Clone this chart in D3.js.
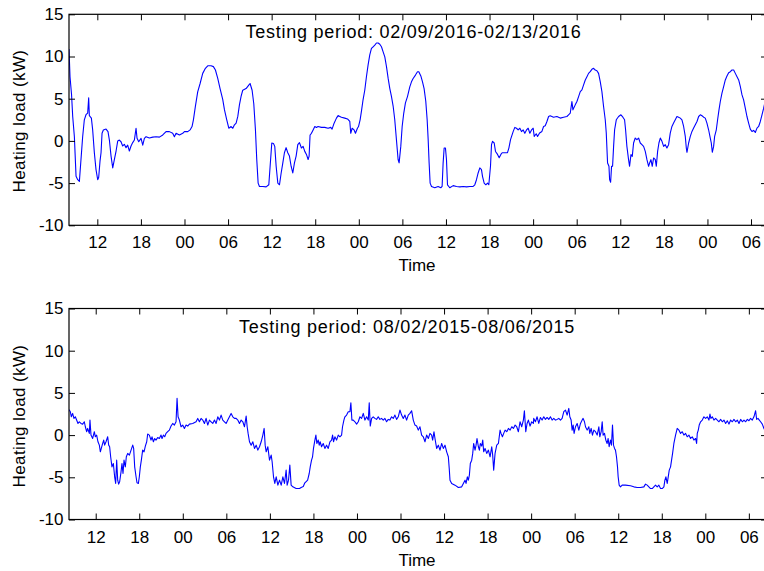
<!DOCTYPE html>
<html>
<head>
<meta charset="utf-8">
<script src="https://cdn.jsdelivr.net/npm/d3@7"></script>
<style>
  body { margin: 0; background: #fff; }
  text { font-family: "Liberation Sans", Arial, Helvetica, sans-serif; fill: #000; }
</style>
</head>
<body>
<svg id="fig" width="764" height="571"></svg>
<script>
// Heating load, kW, sampled as [hour since midnight of first day, kW]
const feb2016Load = [
  [8.10,10.9],[8.24,7.6],[8.45,5.5],[8.61,2.9],[8.84,0.5],[9.07,-4.2],[9.30,-4.6],[9.53,-4.8],[9.75,-2.2],[9.98,0.5],
  [10.21,2.5],[10.44,3.1],[10.67,3.3],[10.81,5.1],[10.90,3.0],[10.99,2.9],[11.18,2.7],[11.36,1.3],[11.59,-1.4],[11.82,-3.4],
  [12.05,-4.6],[12.19,-4.3],[12.37,-2.4],[12.51,-1.4],[12.65,0.9],[12.83,1.3],[13.20,1.4],[13.47,1.1],[13.66,0.1],[13.89,-1.8],
  [14.12,-3.2],[14.35,-2.2],[14.58,-1.2],[14.81,0.0],[15.03,0.1],[15.26,-0.1],[15.49,-0.6],[15.72,-0.4],[15.95,-0.8],[16.18,-0.5],
  [16.41,-1.2],[16.64,-0.6],[16.87,-0.2],[17.10,0.1],[17.33,1.5],[17.47,0.3],[17.70,-0.1],[18.02,0.3],[18.25,-0.5],[18.48,0.3],
  [18.71,0.5],[19.17,0.35],[19.63,0.45],[20.09,0.5],[20.55,0.45],[21.01,0.7],[21.46,1.1],[21.92,1.1],[22.38,0.9],[22.61,0.5],
  [22.84,0.9],[23.30,0.7],[23.76,0.9],[23.99,1.1],[24.45,1.1],[24.77,1.3],[25.04,1.7],[25.23,2.5],[25.50,4.1],[25.82,5.8],
  [26.15,6.8],[26.51,8.0],[26.88,8.6],[27.20,8.9],[27.66,8.9],[27.98,8.8],[28.26,8.4],[28.58,7.4],[28.90,6.2],[29.27,4.9],
  [29.50,3.7],[29.82,2.5],[30.10,1.5],[30.42,1.7],[30.65,1.5],[30.88,1.9],[31.11,2.1],[31.34,2.9],[31.57,4.3],[31.80,5.3],
  [32.02,6.0],[32.48,6.2],[32.85,6.6],[33.03,6.8],[33.31,6.0],[33.54,4.4],[33.77,1.3],[33.95,-2.2],[34.14,-5.0],[34.32,-5.4],
  [34.78,-5.4],[35.24,-5.45],[35.61,-5.2],[35.79,-3.0],[36.02,-0.25],[36.25,-0.3],[36.43,-0.65],[36.62,-3.0],[36.85,-5.0],[37.08,-5.2],
  [37.31,-3.8],[37.54,-2.6],[37.76,-1.4],[37.99,-0.8],[38.22,-1.4],[38.45,-1.8],[38.68,-3.0],[38.91,-3.8],[39.14,-2.6],[39.37,-1.8],
  [39.60,-0.45],[39.83,-0.2],[40.10,-0.84],[40.33,-0.65],[40.56,-1.24],[40.79,-1.6],[41.02,-2.2],[41.16,-1.8],[41.29,0.7],[41.48,0.9],
  [41.71,1.3],[41.94,1.7],[42.17,1.6],[42.39,1.7],[42.85,1.6],[43.31,1.6],[43.77,1.5],[44.14,1.6],[44.32,1.4],[44.60,2.1],
  [44.92,2.7],[45.15,3.0],[45.38,2.9],[45.61,2.8],[46.07,2.7],[46.44,2.6],[46.76,2.3],[46.89,0.9],[47.08,1.5],[47.35,1.3],
  [47.54,0.9],[47.81,1.5],[47.96,1.7],[48.18,2.5],[48.36,3.5],[48.59,4.9],[48.82,6.0],[49.05,7.6],[49.28,9.0],[49.51,10.2],
  [49.74,10.95],[49.97,11.15],[50.20,11.35],[50.43,11.6],[50.66,11.6],[50.89,11.45],[51.12,11.15],[51.35,10.55],[51.58,9.95],[51.81,8.8],
  [52.04,7.4],[52.27,6.2],[52.50,5.25],[52.73,4.1],[52.95,2.5],[53.18,0.15],[53.41,-2.2],[53.55,-2.6],[53.78,-0.65],[53.97,1.7],
  [54.19,3.3],[54.42,4.5],[54.70,5.25],[55.02,6.4],[55.25,7.0],[55.48,7.4],[55.80,7.8],[56.08,8.2],[56.26,8.2],[56.54,7.7],
  [56.77,7.0],[56.99,6.2],[57.22,4.7],[57.41,2.5],[57.55,0.15],[57.68,-2.6],[57.82,-5.0],[58.01,-5.4],[58.46,-5.55],[58.92,-5.4],
  [59.29,-5.55],[59.47,-5.4],[59.61,-2.6],[59.75,-0.85],[59.93,-0.85],[60.07,-2.2],[60.21,-5.2],[60.53,-5.55],[60.99,-5.3],[61.45,-5.4],
  [61.91,-5.45],[62.37,-5.4],[62.83,-5.45],[63.29,-5.4],[63.74,-5.4],[63.97,-5.2],[64.20,-4.6],[64.43,-3.8],[64.66,-3.2],[64.89,-3.4],
  [65.03,-4.2],[65.26,-5.0],[65.49,-5.2],[65.72,-5.0],[65.90,-5.2],[66.13,-3.0],[66.27,-0.45],[66.41,-0.05],[66.64,-0.25],[66.82,-1.25],
  [67.10,-1.6],[67.33,-2.0],[67.56,-1.6],[67.74,-1.4],[68.11,-1.4],[68.47,-1.4],[68.66,-0.85],[68.89,0.15],[69.25,1.1],[69.48,1.6],
  [69.71,1.5],[69.94,1.3],[70.17,1.5],[70.40,1.1],[70.63,1.3],[70.86,0.9],[71.09,1.3],[71.32,1.5],[71.55,0.9],[71.78,1.3],
  [72.01,1.5],[72.15,0.53],[72.43,0.85],[72.61,0.53],[72.89,0.93],[73.21,1.12],[73.44,1.71],[73.67,1.79],[73.90,2.3],[74.13,2.89],
  [74.35,2.98],[74.81,2.81],[75.27,2.89],[75.73,2.7],[76.19,2.81],[76.65,2.89],[76.88,3.09],[77.11,3.28],[77.34,4.67],[77.48,3.68],
  [77.80,4.27],[78.03,4.67],[78.26,5.25],[78.49,5.84],[78.72,6.04],[78.95,6.63],[79.18,7.22],[79.41,7.61],[79.63,8.0],[79.86,8.2],
  [80.09,8.48],[80.32,8.6],[80.55,8.4],[80.78,8.32],[81.01,8.0],[81.24,7.02],[81.47,5.84],[81.70,4.07],[81.93,2.5],[82.07,0.93],
  [82.25,-2.61],[82.44,-3.01],[82.53,-4.58],[82.67,-4.9],[82.80,-3.01],[82.94,-3.01],[83.08,-0.65],[83.22,1.32],[83.45,2.5],[83.77,2.89],
  [84.09,3.09],[84.36,2.81],[84.59,2.5],[84.73,1.32],[84.91,-0.65],[85.14,-2.22],[85.28,-3.01],[85.47,-1.63],[85.65,-1.83],[85.83,-0.25],
  [86.06,0.34],[86.29,0.14],[86.52,0.34],[86.75,-0.25],[86.98,-0.45],[87.21,-0.65],[87.44,-1.24],[87.67,-2.22],[87.90,-3.01],[88.04,-2.61],
  [88.22,-2.22],[88.40,-3.01],[88.59,-2.02],[88.82,-2.22],[88.96,-3.01],[89.14,-1.24],[89.32,-0.25],[89.51,0.34],[89.74,-0.05],[89.97,-0.65],
  [90.19,-0.45],[90.42,-0.84],[90.65,-0.45],[90.88,0.93],[91.11,1.71],[91.34,2.11],[91.57,2.5],[91.80,2.89],[92.03,2.81],[92.26,2.7],
  [92.49,2.5],[92.72,1.71],[92.95,0.53],[93.09,-0.84],[93.18,-1.35],[93.41,-0.25],[93.64,0.53],[93.87,1.12],[94.10,1.52],[94.33,1.91],
  [94.56,2.3],[94.79,2.89],[95.02,3.09],[95.25,2.98],[95.48,2.81],[95.70,2.7],[95.93,2.11],[96.16,1.32],[96.39,0.34],[96.53,-0.25],
  [96.67,-1.35],[96.85,-0.65],[96.99,0.53],[97.22,1.32],[97.40,2.5],[97.59,3.68],[97.77,4.67],[98.00,5.65],[98.23,6.43],[98.46,7.22],
  [98.69,7.68],[98.92,8.08],[99.15,8.2],[99.38,8.4],[99.61,8.4],[99.84,8.0],[100.07,7.61],[100.30,7.22],[100.53,6.43],[100.76,5.45],
  [100.98,4.86],[101.21,3.88],[101.44,2.89],[101.67,2.11],[101.90,1.4],[102.13,1.12],[102.36,1.24],[102.59,1.0],[102.82,1.52],[103.05,1.71],
  [103.28,2.3],[103.51,3.09],[103.74,3.88],[103.95,4.7],[104.20,5.0]
];

const aug2015Load = [
  [8.32,2.9],[8.36,2.97],[8.50,2.77],[8.64,2.17],[8.82,2.57],[9.00,1.98],[9.19,2.17],[9.37,1.78],[9.56,1.38],[9.74,1.58],
  [9.97,1.38],[10.20,1.30],[10.43,1.58],[10.57,0.99],[10.75,0.40],[10.89,0.79],[11.12,0.20],[11.21,1.78],[11.35,0.0],[11.58,-0.40],
  [11.81,0.40],[11.95,-0.20],[12.13,0.0],[12.31,-0.79],[12.50,-1.19],[12.64,-1.98],[12.77,-1.58],[12.96,-0.99],[13.10,-0.59],[13.23,-1.19],
  [13.42,-0.79],[13.65,-0.20],[13.79,-1.19],[13.92,-1.38],[14.06,-2.57],[14.24,-3.76],[14.43,-3.36],[14.61,-4.94],[14.75,-5.73],[14.89,-2.97],
  [15.03,-5.34],[15.16,-5.81],[15.30,-5.53],[15.49,-4.35],[15.62,-3.36],[15.76,-4.55],[15.90,-2.97],[16.08,-3.76],[16.22,-2.57],[16.41,-2.17],
  [16.64,-2.37],[16.87,-1.78],[17.10,-1.19],[17.23,-1.58],[17.37,-3.76],[17.56,-4.94],[17.69,-5.65],[17.88,-5.73],[18.01,-4.94],[18.15,-3.76],
  [18.29,-2.97],[18.47,-1.78],[18.66,-1.98],[18.84,-1.30],[19.03,-0.79],[19.16,0.12],[19.39,0.0],[19.62,-0.59],[19.76,-0.20],[19.95,-0.79],
  [20.13,-0.40],[20.31,-0.59],[20.54,-0.28],[20.77,-0.40],[21.00,0.0],[21.14,-0.40],[21.33,0.0],[21.51,-0.20],[21.69,0.20],[21.92,0.40],
  [22.15,0.59],[22.38,1.07],[22.61,1.38],[22.84,1.19],[23.07,1.58],[23.21,4.35],[23.35,2.17],[23.53,1.78],[23.76,0.99],[23.99,1.19],
  [24.22,0.79],[24.45,1.19],[24.68,1.07],[24.91,1.30],[25.37,1.38],[25.83,1.58],[26.06,1.98],[26.29,1.58],[26.52,1.98],[26.75,1.78],
  [26.98,1.38],[27.21,1.98],[27.44,1.19],[27.67,1.78],[27.90,1.58],[28.13,1.38],[28.36,1.78],[28.59,1.38],[28.82,2.17],[29.05,1.78],
  [29.28,2.37],[29.51,1.78],[29.74,1.58],[29.97,1.38],[30.20,1.78],[30.43,2.17],[30.66,2.57],[30.89,2.17],[31.12,1.98],[31.35,1.98],
  [31.58,1.78],[31.81,1.38],[32.04,1.78],[32.27,1.58],[32.50,0.99],[32.73,2.25],[32.87,0.99],[33.00,0.20],[33.19,-0.79],[33.42,-1.19],
  [33.65,-0.79],[33.88,-1.58],[34.11,-1.19],[34.34,-1.78],[34.57,-1.38],[34.80,-0.79],[35.03,0.0],[35.21,0.79],[35.35,-1.19],[35.49,-1.98],
  [35.72,-1.38],[35.95,-2.97],[36.18,-2.37],[36.31,-3.16],[36.50,-4.94],[36.68,-5.73],[36.87,-4.94],[37.10,-5.93],[37.33,-5.34],[37.56,-5.93],
  [37.79,-4.94],[38.01,-5.73],[38.24,-4.15],[38.38,-5.93],[38.57,-5.34],[38.75,-3.56],[38.93,-5.93],[39.16,-6.13],[39.62,-6.33],[40.08,-6.33],
  [40.31,-6.2],[40.60,-6.1],[40.82,-5.65],[41.00,-5.5],[41.20,-5.34],[41.42,-4.55],[41.56,-3.76],[41.74,-2.97],[41.88,-2.57],[42.01,-1.58],
  [42.20,-0.59],[42.34,0.0],[42.47,-0.99],[42.66,-0.59],[42.80,-1.19],[42.93,-0.79],[43.12,-1.38],[43.35,-0.99],[43.58,-1.58],[43.81,-1.19],
  [44.04,-1.58],[44.27,-0.79],[44.50,-0.59],[44.64,0.0],[44.77,-0.79],[44.96,-0.20],[45.19,-0.59],[45.42,0.0],[45.65,-0.20],[45.88,0.0],
  [46.01,0.99],[46.20,1.78],[46.34,2.17],[46.57,2.37],[46.80,2.77],[47.03,2.77],[47.16,3.83],[47.30,1.78],[47.49,1.78],[47.72,1.58],
  [47.95,1.30],[48.18,1.58],[48.41,2.17],[48.64,1.98],[48.87,2.57],[49.10,1.78],[49.33,2.17],[49.56,1.78],[49.69,3.83],[49.83,1.07],
  [50.02,1.98],[50.24,2.17],[50.47,1.98],[50.70,1.86],[50.93,2.17],[51.16,1.86],[51.39,1.98],[51.62,1.78],[51.85,1.98],[52.08,1.58],
  [52.31,1.86],[52.54,1.78],[52.77,2.17],[53.00,1.98],[53.23,2.37],[53.46,1.86],[53.69,2.17],[53.92,2.97],[54.15,2.37],[54.38,1.98],
  [54.61,2.37],[54.84,1.78],[55.07,2.37],[55.30,2.57],[55.53,2.89],[55.76,1.78],[55.99,1.19],[56.22,1.07],[56.45,0.59],[56.68,0.99],
  [56.91,0.0],[57.14,-0.20],[57.37,-0.79],[57.60,0.0],[57.83,-0.40],[58.06,0.20],[58.29,0.0],[58.43,-0.59],[58.61,0.40],[58.75,-0.40],
  [58.98,-1.58],[59.21,-1.19],[59.44,-1.78],[59.67,-0.99],[59.90,-1.58],[60.13,-1.19],[60.36,-1.98],[60.59,-2.57],[60.73,-4.15],[60.82,-5.34],
  [61.05,-5.73],[61.51,-5.93],[61.97,-6.21],[62.43,-6.13],[62.66,-5.73],[62.89,-5.34],[63.03,-5.73],[63.21,-4.94],[63.35,-5.34],[63.49,-4.74],
  [63.62,-3.36],[63.81,-2.97],[63.95,-2.17],[64.08,-0.99],[64.27,-1.78],[64.41,-1.19],[64.54,-0.40],[64.73,-1.38],[64.87,-1.78],[65.00,-0.99],
  [65.19,-1.30],[65.33,-0.59],[65.46,-1.98],[65.65,-1.58],[65.88,-2.17],[66.11,-1.78],[66.34,-2.57],[66.57,-1.38],[66.70,-2.37],[66.84,-4.15],
  [67.03,-2.17],[67.26,-1.19],[67.49,-0.99],[67.72,0.59],[67.85,0.20],[68.04,-0.20],[68.22,0.20],[68.41,0.59],[68.64,0.40],[68.87,0.79],
  [69.10,0.59],[69.33,0.99],[69.56,0.79],[69.79,1.19],[70.01,0.99],[70.24,0.40],[70.47,1.58],[70.70,0.99],[70.93,1.78],[71.07,2.89],
  [71.26,0.40],[71.44,1.38],[71.62,1.78],[71.85,1.07],[72.08,1.58],[72.31,1.38],[72.36,1.98],[72.59,1.58],[72.82,2.17],[73.05,1.38],
  [73.28,2.09],[73.51,1.78],[73.74,2.17],[73.97,1.86],[74.20,2.09],[74.43,1.86],[74.66,2.17],[74.89,1.78],[75.12,1.98],[75.35,1.78],
  [75.58,1.86],[75.81,1.98],[76.04,1.78],[76.27,1.98],[76.50,2.77],[76.73,2.97],[76.96,2.37],[77.19,3.16],[77.33,2.17],[77.51,1.78],
  [77.65,0.59],[77.79,1.19],[77.92,0.20],[78.11,0.99],[78.34,1.38],[78.57,0.59],[78.80,1.38],[79.03,1.78],[79.16,1.98],[79.35,1.58],
  [79.49,0.99],[79.72,0.59],[79.95,0.99],[80.08,0.20],[80.27,0.79],[80.45,0.0],[80.64,0.59],[80.87,0.40],[81.10,0.0],[81.33,0.99],
  [81.46,-0.20],[81.65,0.40],[81.79,1.58],[81.92,0.0],[82.11,0.20],[82.29,-0.59],[82.47,-0.99],[82.61,-0.40],[82.75,-1.38],[82.93,-0.59],
  [83.07,-1.19],[83.21,1.19],[83.35,-1.19],[83.49,-1.58],[83.62,-1.78],[83.76,-2.57],[83.90,-3.76],[83.99,-4.94],[84.13,-5.93],[84.31,-6.13],
  [84.54,-5.93],[85.00,-5.93],[85.69,-6.01],[86.15,-6.13],[86.61,-6.21],[87.07,-6.21],[87.53,-6.13],[87.76,-5.81],[87.99,-5.93],[88.22,-6.13],
  [88.45,-6.33],[88.68,-6.33],[88.91,-6.13],[89.14,-5.93],[89.37,-6.13],[89.60,-5.93],[89.83,-6.33],[90.06,-6.33],[90.29,-6.13],[90.43,-5.34],
  [90.57,-4.94],[90.75,-5.73],[90.89,-4.94],[91.03,-4.15],[91.21,-3.76],[91.35,-2.97],[91.49,-2.17],[91.67,-0.99],[91.90,0.0],[92.13,0.79],
  [92.36,0.59],[92.59,0.20],[92.82,0.40],[93.05,0.0],[93.28,0.20],[93.51,-0.20],[93.74,0.0],[93.97,-0.40],[94.20,-0.20],[94.43,-0.59],
  [94.66,-0.40],[94.80,-0.99],[94.89,0.20],[95.03,0.59],[95.16,1.19],[95.35,1.58],[95.58,1.78],[95.81,2.17],[96.04,1.98],[96.27,2.17],
  [96.50,1.78],[96.64,2.49],[96.77,1.98],[96.96,2.17],[97.19,1.78],[97.42,1.98],[97.65,1.78],[97.88,1.58],[98.11,1.86],[98.34,1.58],
  [98.57,1.78],[98.80,1.38],[99.03,1.70],[99.26,1.30],[99.49,1.78],[99.72,1.58],[99.95,1.86],[100.18,1.58],[100.41,1.78],[100.64,1.38],
  [100.87,1.86],[101.10,1.58],[101.33,1.78],[101.56,1.58],[101.79,1.86],[102.01,1.70],[102.24,1.98],[102.47,1.78],[102.70,2.17],[102.93,2.89],
  [103.07,1.86],[103.26,1.98],[103.44,1.78],[103.62,1.58],[103.85,1.30],[104.08,0.79],[104.30,0.40],[104.50,0.20]
];

// Axis ticks
const loadTicks = [-10, -5, 0, 5, 10, 15];
const hourTicks = [12, 18, 24, 30, 36, 42, 48, 54, 60, 66, 72, 78, 84, 90, 96, 102];
const hourLabels = ["12", "18", "00", "06", "12", "18", "00", "06", "12", "18", "00", "06", "12", "18", "00", "06"];

const panels = [
  { title: "Testing period: 02/09/2016-02/13/2016", data: feb2016Load, hours: [8.1, 104.2],
    top: 14.3, titleX: 413.5, labelY: 121 },
  { title: "Testing period: 08/02/2015-08/06/2015", data: aug2015Load, hours: [8.32, 104.5],
    top: 308.5, titleX: 407, labelY: 416 }
];

const svg = d3.select("#fig");
const left = 69, right = 767, plotH = 211, tickLen = 6;

panels.forEach((p, i) => {
  const bottom = p.top + plotH;
  const x = d3.scaleLinear().domain(p.hours).range([left, right]);
  const y = d3.scaleLinear().domain([-10, 15]).range([bottom, p.top]);
  const g = svg.append("g");

  const clipId = "plotclip" + i;
  g.append("clipPath").attr("id", clipId)
    .append("rect").attr("x", left).attr("y", p.top)
    .attr("width", right - left).attr("height", plotH);

  // load curve
  const line = d3.line().x(d => x(d[0])).y(d => y(d[1]));
  g.append("path").datum(p.data)
    .attr("clip-path", `url(#${clipId})`)
    .attr("fill", "none").attr("stroke", "#0000ff")
    .attr("stroke-width", 1.1).attr("stroke-linejoin", "round")
    .attr("d", line);

  const labelMap = new Map(hourTicks.map((h, k) => [h, hourLabels[k]]));

  const styleAxis = sel => {
    sel.select(".domain").remove();
    sel.selectAll(".tick line").attr("stroke", "#000").attr("stroke-width", 1);
    sel.selectAll(".tick text").attr("font-size", 17).attr("fill", "#000")
      .style("font-family", '"Liberation Sans", Arial, sans-serif');
  };

  g.append("g").attr("transform", `translate(0,${bottom})`)
    .call(d3.axisBottom(x).tickValues(hourTicks).tickFormat(h => labelMap.get(h))
      .tickSizeInner(-tickLen).tickSizeOuter(0).tickPadding(11))
    .call(styleAxis);
  g.append("g").attr("transform", `translate(0,${p.top})`)
    .call(d3.axisTop(x).tickValues(hourTicks).tickFormat("")
      .tickSizeInner(-tickLen).tickSizeOuter(0))
    .call(styleAxis);
  g.append("g").attr("transform", `translate(${left},0)`)
    .call(d3.axisLeft(y).tickValues(loadTicks).tickFormat(v => String(v))
      .tickSizeInner(-tickLen).tickSizeOuter(0).tickPadding(5.5))
    .call(styleAxis);
  g.append("g").attr("transform", `translate(${right},0)`)
    .call(d3.axisRight(y).tickValues(loadTicks).tickFormat("")
      .tickSizeInner(-tickLen).tickSizeOuter(0))
    .call(styleAxis);

  // box
  g.append("rect").attr("x", left).attr("y", p.top)
    .attr("width", right - left).attr("height", plotH)
    .attr("fill", "none").attr("stroke", "#000").attr("stroke-width", 1.2);

  g.append("text").attr("x", p.titleX).attr("y", p.top + 24)
    .attr("text-anchor", "middle").attr("font-size", 18)
    .attr("letter-spacing", 0.75).text(p.title);

  g.append("text").attr("x", (left + right) / 2 - 1).attr("y", bottom + 46)
    .attr("text-anchor", "middle").attr("font-size", 17).text("Time");

  g.append("text").attr("transform", `translate(25,${p.labelY}) rotate(-90)`)
    .attr("text-anchor", "middle").attr("font-size", 17)
    .attr("letter-spacing", 0.4).text("Heating load (kW)");
});
</script>
</body>
</html>
